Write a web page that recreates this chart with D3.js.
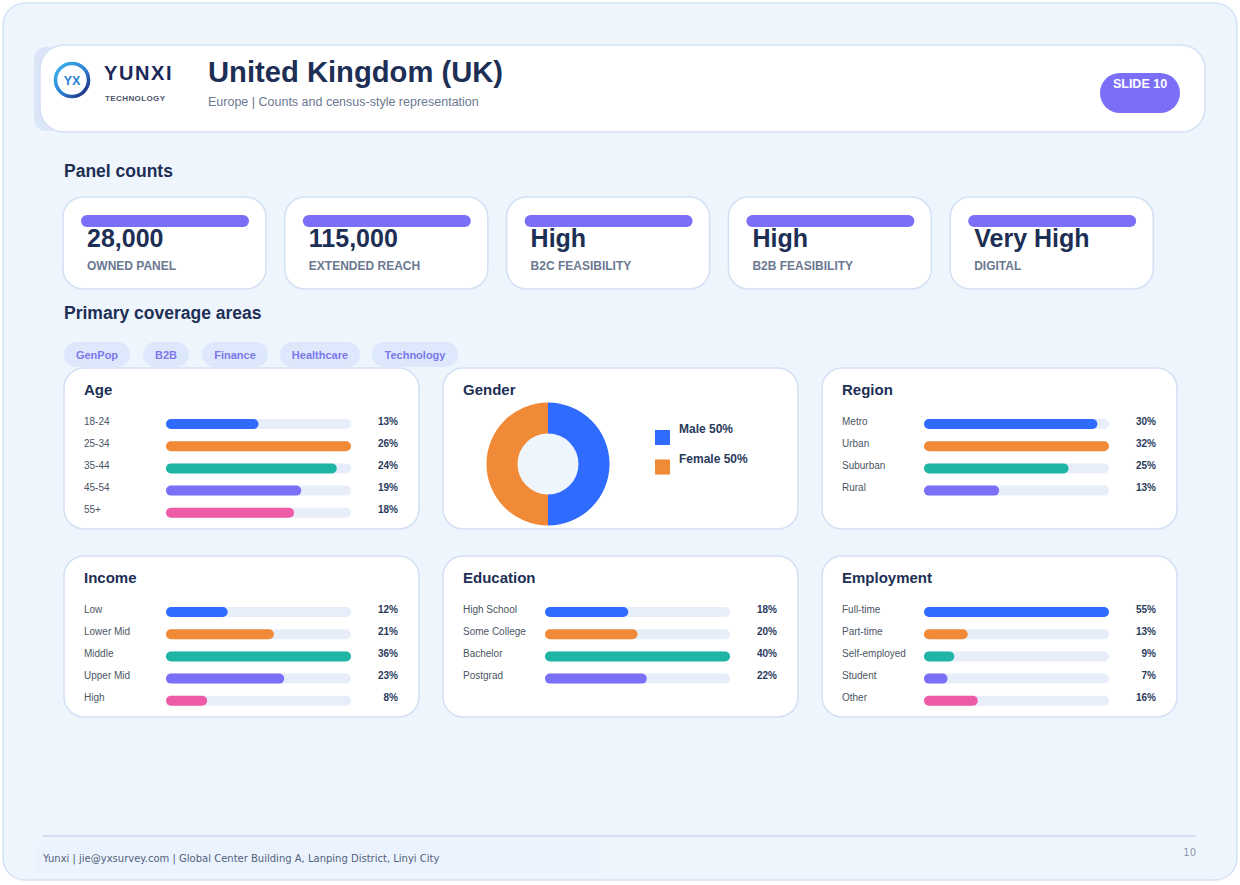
<!DOCTYPE html>
<html>
<head>
<meta charset="utf-8">
<script src="https://cdn.jsdelivr.net/npm/d3@7"></script>
<style>
  html, body { margin: 0; padding: 0; background: #ffffff; }
  svg { display: block; font-family: "Liberation Sans", Arial, Helvetica, sans-serif; }
</style>
</head>
<body>
<svg id="chart" width="1240" height="885"></svg>
<script>
// ---------- DATA ----------
const kpiValues = ["28,000", "115,000", "High", "High", "Very High"];
const kpiLabels = ["OWNED PANEL", "EXTENDED REACH", "B2C FEASIBILITY", "B2B FEASIBILITY", "DIGITAL"];
const coverageTags = ["GenPop", "B2B", "Finance", "Healthcare", "Technology"];

const ageLabels = ["18-24", "25-34", "35-44", "45-54", "55+"];
const ageValues = [13, 26, 24, 19, 18];
const genderLabels = ["Male", "Female"];
const genderValues = [50, 50];
const regionLabels = ["Metro", "Urban", "Suburban", "Rural"];
const regionValues = [30, 32, 25, 13];
const incomeLabels = ["Low", "Lower Mid", "Middle", "Upper Mid", "High"];
const incomeValues = [12, 21, 36, 23, 8];
const educationLabels = ["High School", "Some College", "Bachelor", "Postgrad"];
const educationValues = [18, 20, 40, 22];
const employmentLabels = ["Full-time", "Part-time", "Self-employed", "Student", "Other"];
const employmentValues = [55, 13, 9, 7, 16];

// ---------- STYLE ----------
const palette = ["#2f6bff", "#f08a37", "#1fb5a5", "#7a6ff7", "#ee5ba6"];
const navy = "#1d2f55";
const svg = d3.select("#chart");

// page frame
svg.append("rect").attr("x", 3).attr("y", 3).attr("width", 1234).attr("height", 877)
  .attr("rx", 22).attr("fill", "#eff5fd").attr("stroke", "#d5e2f4").attr("stroke-width", 1.5);

// header card
svg.append("rect").attr("x", 34).attr("y", 47).attr("width", 60).attr("height", 84)
  .attr("rx", 12).attr("fill", "#dbe7f8");
svg.append("rect").attr("x", 40).attr("y", 45).attr("width", 1165).attr("height", 87)
  .attr("rx", 24).attr("fill", "#ffffff").attr("stroke", "#d3e0f3").attr("stroke-width", 1.5);

// logo
const defs = svg.append("defs");
const lg = defs.append("linearGradient").attr("id", "ring").attr("x1", "0").attr("y1", "0").attr("x2", "1").attr("y2", "1");
lg.append("stop").attr("offset", "0%").attr("stop-color", "#3fb6f0");
lg.append("stop").attr("offset", "55%").attr("stop-color", "#2d7fd6");
lg.append("stop").attr("offset", "100%").attr("stop-color", "#1b1f6e");
svg.append("circle").attr("cx", 72).attr("cy", 80).attr("r", 16.5)
  .attr("fill", "#ffffff").attr("stroke", "url(#ring)").attr("stroke-width", 3.6);
svg.append("text").attr("x", 72).attr("y", 84.5).attr("text-anchor", "middle")
  .attr("font-size", 12.5).attr("font-weight", 700).attr("fill", "#2a7fd8").text("YX");
svg.append("text").attr("x", 104).attr("y", 80).attr("font-size", 20).attr("font-weight", 700)
  .attr("fill", "#1b2658").attr("letter-spacing", 1.6).text("YUNXI");
svg.append("text").attr("x", 105).attr("y", 101).attr("font-size", 8).attr("font-weight", 700)
  .attr("fill", "#4a5568").attr("letter-spacing", 0.4).text("TECHNOLOGY");

// title
svg.append("text").attr("x", 208).attr("y", 82).attr("font-size", 29.2).attr("font-weight", 700)
  .attr("fill", navy).text("United Kingdom (UK)");
svg.append("text").attr("x", 208).attr("y", 106).attr("font-size", 12.5)
  .attr("fill", "#6b7891").text("Europe | Counts and census-style representation");

// slide pill
svg.append("rect").attr("x", 1100).attr("y", 73).attr("width", 80).attr("height", 40)
  .attr("rx", 20).attr("fill", "#7b6ff7");
svg.append("text").attr("x", 1140).attr("y", 88).attr("text-anchor", "middle")
  .attr("font-size", 12.5).attr("font-weight", 700).attr("fill", "#ffffff").text("SLIDE 10");

// section headings
svg.append("text").attr("x", 64).attr("y", 177).attr("font-size", 17.5).attr("font-weight", 700)
  .attr("fill", navy).text("Panel counts");
svg.append("text").attr("x", 64).attr("y", 319).attr("font-size", 17.5).attr("font-weight", 700)
  .attr("fill", navy).text("Primary coverage areas");

// KPI cards
kpiValues.forEach((v, i) => {
  const x0 = 63 + i * 221.8;
  const g = svg.append("g").attr("transform", `translate(${x0},197)`);
  g.append("rect").attr("width", 203).attr("height", 92).attr("rx", 20)
    .attr("fill", "#ffffff").attr("stroke", "#d3e0f3").attr("stroke-width", 1.5);
  g.append("rect").attr("x", 18).attr("y", 18).attr("width", 168).attr("height", 12)
    .attr("rx", 6).attr("fill", "#7b6ff7");
  g.append("text").attr("x", 24).attr("y", 50).attr("font-size", 25).attr("font-weight", 700)
    .attr("fill", navy).text(v);
  g.append("text").attr("x", 24).attr("y", 73).attr("font-size", 12).attr("font-weight", 700)
    .attr("fill", "#6b7891").text(kpiLabels[i]);
});

// tags
const tagX = [64, 143, 202, 280, 372];
const tagW = [66, 46, 66, 80, 86];
coverageTags.forEach((t, i) => {
  svg.append("rect").attr("x", tagX[i]).attr("y", 342).attr("width", tagW[i]).attr("height", 25)
    .attr("rx", 12.5).attr("fill", "#dde8fc");
  svg.append("text").attr("x", tagX[i] + tagW[i] / 2).attr("y", 358.5).attr("text-anchor", "middle")
    .attr("font-size", 11).attr("font-weight", 700).attr("fill", "#7c78ea").text(t);
});

// panels
const colX = [64, 443, 822];
const rowY = [368, 556];
const panelW = 355, panelH = 161;

function panel(x, y, title) {
  const g = svg.append("g").attr("transform", `translate(${x},${y})`);
  g.append("rect").attr("width", panelW).attr("height", panelH).attr("rx", 20)
    .attr("fill", "#ffffff").attr("stroke", "#d3e0f3").attr("stroke-width", 1.5);
  g.append("text").attr("x", 20).attr("y", 26.5).attr("font-size", 15).attr("font-weight", 700)
    .attr("fill", navy).text(title);
  return g;
}

function barPanel(x, y, title, labels, values) {
  const g = panel(x, y, title);
  const xs = d3.scaleLinear().domain([0, d3.max(values)]).range([0, 185]);
  const ys = d3.scalePoint().domain(labels).range([56, 56 + 22.2 * (labels.length - 1)]);
  labels.forEach((l, i) => {
    const cy = ys(l);
    g.append("text").attr("x", 20).attr("y", cy + 0.5).attr("font-size", 10)
      .attr("fill", "#4b5563").text(l);
    g.append("rect").attr("x", 102).attr("y", cy - 5).attr("width", 185).attr("height", 10)
      .attr("rx", 5).attr("fill", "#e7eefa");
    g.append("rect").attr("x", 102).attr("y", cy - 5).attr("width", xs(values[i])).attr("height", 10)
      .attr("rx", 5).attr("fill", palette[i % palette.length]);
    g.append("text").attr("x", 334).attr("y", cy + 0.5).attr("text-anchor", "end")
      .attr("font-size", 10).attr("font-weight", 700).attr("fill", "#2a3a5c").text(values[i] + "%");
  });
}

barPanel(colX[0], rowY[0], "Age", ageLabels, ageValues);
barPanel(colX[2], rowY[0], "Region", regionLabels, regionValues);
barPanel(colX[0], rowY[1], "Income", incomeLabels, incomeValues);
barPanel(colX[1], rowY[1], "Education", educationLabels, educationValues);
barPanel(colX[2], rowY[1], "Employment", employmentLabels, employmentValues);

// gender donut
(function () {
  const g = panel(colX[1], rowY[0], "Gender");
  const pie = d3.pie().sort(null).value(d => d)(genderValues);
  const arc = d3.arc().innerRadius(30.5).outerRadius(61.5);
  const dg = g.append("g").attr("transform", "translate(105,96)");
  dg.append("circle").attr("r", 30.5).attr("fill", "#eff5fd");
  dg.selectAll("path").data(pie).join("path").attr("d", arc)
    .attr("fill", (d, i) => palette[i]);
  genderLabels.forEach((l, i) => {
    const ly = 62 + i * 29.5;
    g.append("rect").attr("x", 212).attr("y", ly).attr("width", 15).attr("height", 15)
      .attr("fill", palette[i]);
    g.append("text").attr("x", 236).attr("y", ly + 3).attr("font-size", 12).attr("font-weight", 700)
      .attr("fill", "#2a3a5c").text(l + " " + genderValues[i] + "%");
  });
})();

// footer
svg.append("line").attr("x1", 43).attr("x2", 1196).attr("y1", 836).attr("y2", 836)
  .attr("stroke", "#d3e0f2").attr("stroke-width", 2);
svg.append("rect").attr("x", 35).attr("y", 842).attr("width", 565).attr("height", 31)
  .attr("fill", "#eaf3fe");
svg.append("text").attr("x", 43).attr("y", 862).attr("font-family", "DejaVu Sans")
  .attr("font-size", 10).attr("fill", "#55617a")
  .text("Yunxi | jie@yxsurvey.com | Global Center Building A, Lanping District, Linyi City");
svg.append("text").attr("x", 1196).attr("y", 856).attr("text-anchor", "end").attr("font-family", "DejaVu Sans")
  .attr("font-size", 10).attr("fill", "#8c98ad").text("10");
</script>
</body>
</html>
